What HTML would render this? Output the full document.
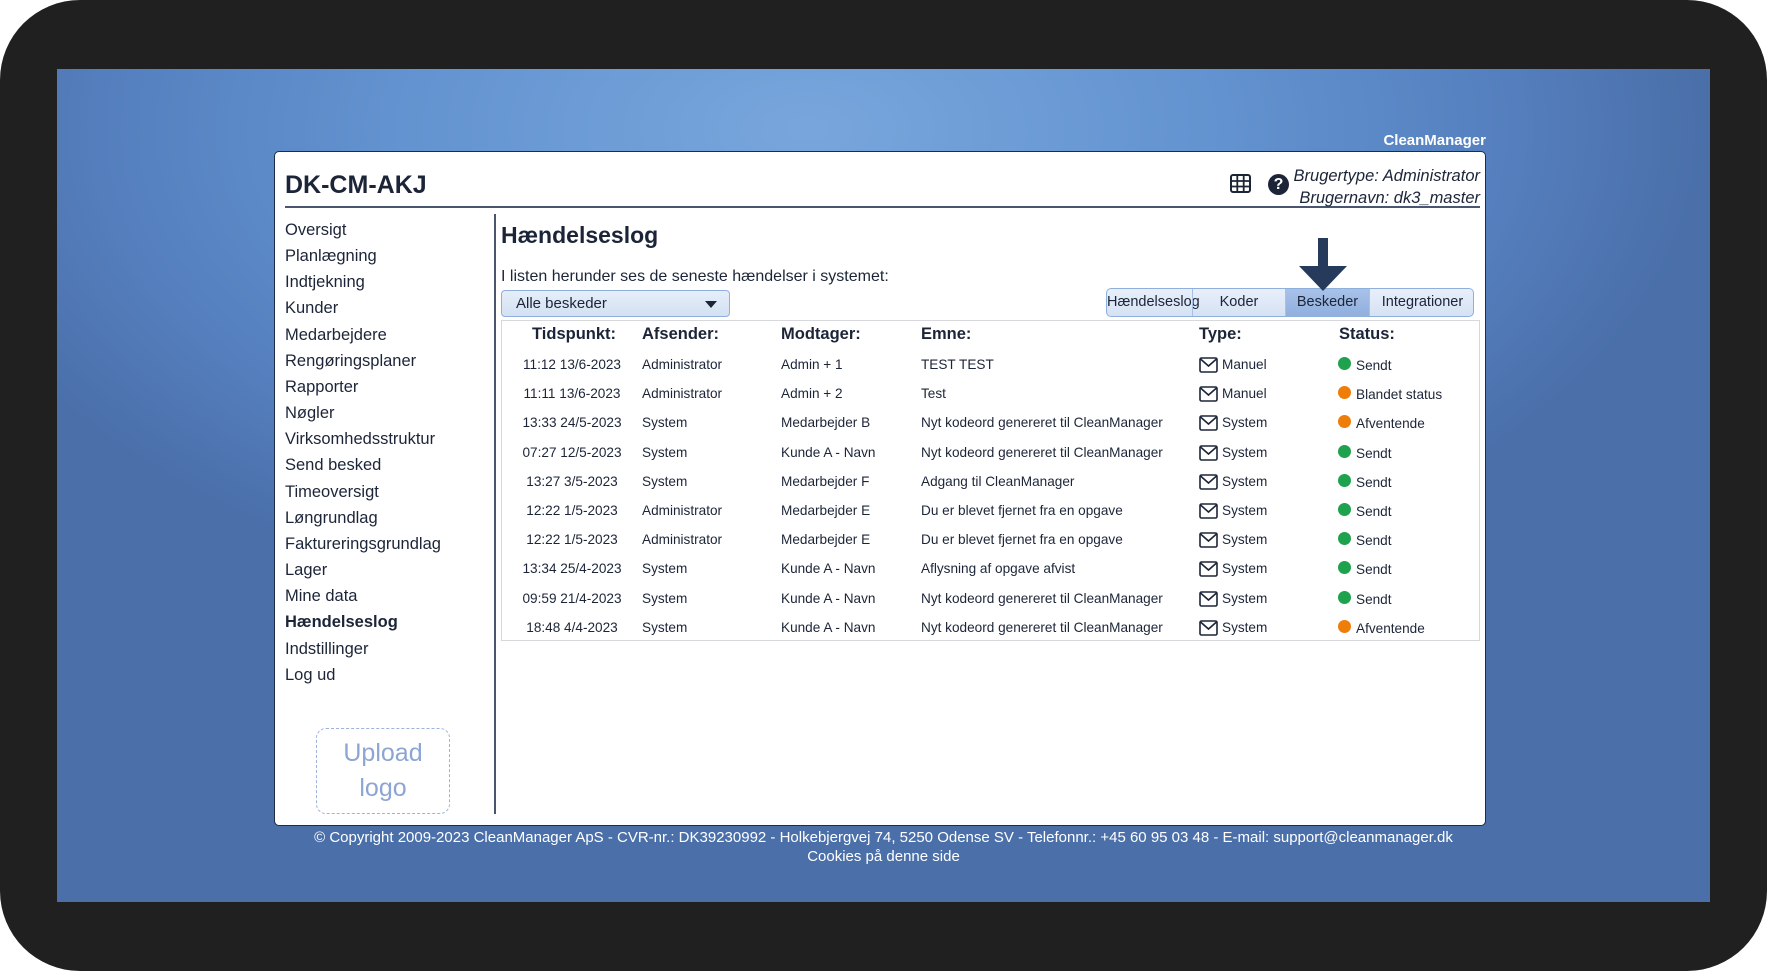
<!DOCTYPE html>
<html><head><meta charset="utf-8"><style>
*{margin:0;padding:0;box-sizing:border-box}
body{width:1767px;height:971px;background:#fff;position:relative;overflow:hidden;font-family:"Liberation Sans",sans-serif;color:#1c2538}
.frame{position:absolute;left:0;top:0;width:1767px;height:971px;background:#212021;border-radius:80px}
.blue{position:absolute;left:57px;top:69px;width:1653px;height:833px;background:radial-gradient(ellipse 900px 500px at 750px 60px,#78a6dc 0%,#6393d0 45%,#5681c0 75%,#4a6fa9 100%)}
.a{position:absolute;white-space:nowrap}
.panel{position:absolute;left:274px;top:151px;width:1212px;height:675px;background:#fff;border-radius:5px;border:1.5px solid #1f2c48}
.menu{font-size:16.5px;color:#1c2538}
.row{font-size:13.6px;color:#1c2538}
.hd{font-size:16.5px;font-weight:bold;color:#1c2538}
.dot{position:absolute;width:13px;height:13px;border-radius:50%}
.g{background:#1fa24e}.o{background:#ee7d0a}
</style></head><body>
<div class="frame"></div>
<div class="blue"></div>
<div class="a" style="right:281px;top:132px;font-size:15px;font-weight:bold;color:#fff">CleanManager</div>
<div class="panel"></div>
<div class="a" style="left:285px;top:171px;font-size:25px;font-weight:bold;color:#1c2538">DK-CM-AKJ</div>
<div class="a" style="left:285px;top:206px;width:1195px;height:2px;background:#4a5670"></div>
<svg class="a" style="left:1230px;top:174px" width="21" height="19" viewBox="0 0 21 19"><rect x="1" y="1" width="19" height="17" rx="2" fill="none" stroke="#1c2538" stroke-width="2"/><path d="M1 7h19M1 12.5h19M7.3 1v17M13.7 1v17" stroke="#1c2538" stroke-width="1.8"/></svg>
<div class="a" style="left:1268px;top:174px;width:21px;height:21px;border-radius:50%;background:#1c2538;color:#fff;font-weight:bold;font-size:16px;text-align:center;line-height:21px">?</div>
<div class="a" style="right:287px;top:165px;font-size:16.5px;font-style:italic;text-align:right;line-height:22px">Brugertype: Administrator<br>Brugernavn: dk3_master</div>
<div class="a" style="left:494px;top:214px;width:2px;height:600px;background:#4a5670"></div>
<div class="a menu" style="left:285px;top:217px;line-height:26.15px">Oversigt<br>Planlægning<br>Indtjekning<br>Kunder<br>Medarbejdere<br>Rengøringsplaner<br>Rapporter<br>Nøgler<br>Virksomhedsstruktur<br>Send besked<br>Timeoversigt<br>Løngrundlag<br>Faktureringsgrundlag<br>Lager<br>Mine data<br><b>Hændelseslog</b><br>Indstillinger<br>Log ud</div>
<div class="a" style="left:316px;top:728px;width:134px;height:86px;border:1.5px dashed #9db3dc;border-radius:10px;color:#8ca5d3;font-size:25px;text-align:center;line-height:35px;padding-top:7px">Upload<br>logo</div>
<div class="a" style="left:501px;top:222px;font-size:23px;font-weight:bold">Hændelseslog</div>
<div class="a" style="left:501px;top:268px;font-size:16px">I listen herunder ses de seneste hændelser i systemet:</div>
<div class="a" style="left:501px;top:290px;width:229px;height:27px;border:1px solid #8fb0dd;border-radius:4px;background:linear-gradient(#e6eef9,#d3e1f3);font-size:15px;line-height:25px;padding-left:14px">Alle beskeder<span style="position:absolute;right:12px;top:10px;border-left:6px solid transparent;border-right:6px solid transparent;border-top:7px solid #1c2538"></span></div>
<div class="a" style="left:1106px;top:288px;width:368px;height:29px;border:1px solid #8fb0dd;border-radius:5px;background:linear-gradient(#e8effa,#d5e2f4);overflow:hidden;font-size:14.5px;line-height:27px">
<span class="a" style="left:0;width:85px;text-align:center">Hændelseslog</span>
<span class="a" style="left:85px;width:93px;text-align:center;border-left:1px solid #a9c0e2">Koder</span>
<span class="a" style="left:178px;width:84px;text-align:center;border-left:1px solid #a9c0e2;background:linear-gradient(#a8c2e8,#8eaedd);height:29px">Beskeder</span>
<span class="a" style="left:262px;width:106px;text-align:center;border-left:1px solid #a9c0e2">Integrationer</span></div>
<svg class="a" style="left:1298px;top:238px" width="50" height="54" viewBox="0 0 50 54"><rect x="20" y="0" width="10" height="30" fill="#263b5c"/><path d="M1 28h48L25 53z" fill="#263b5c"/></svg>
<div class="a" style="left:501px;top:320px;width:979px;height:321px;border:1.5px solid #d6d8dc"></div>
<div class="a hd" style="left:532px;top:325px">Tidspunkt:</div>
<div class="a hd" style="left:642px;top:325px">Afsender:</div>
<div class="a hd" style="left:781px;top:325px">Modtager:</div>
<div class="a hd" style="left:921px;top:325px">Emne:</div>
<div class="a hd" style="left:1199px;top:325px">Type:</div>
<div class="a hd" style="left:1339px;top:325px">Status:</div>
<div id="rows"></div>
<div class="a" style="left:57px;width:1653px;top:828px;text-align:center;color:#fff;font-size:15px;line-height:19px">© Copyright 2009-2023 CleanManager ApS - CVR-nr.: DK39230992 - Holkebjergvej 74, 5250 Odense SV - Telefonnr.: +45 60 95 03 48 - E-mail: support@cleanmanager.dk<br>Cookies på denne side</div>
<script>
var d=[["11:12 13/6-2023","Administrator","Admin + 1","TEST TEST","Manuel","g","Sendt"],
["11:11 13/6-2023","Administrator","Admin + 2","Test","Manuel","o","Blandet status"],
["13:33 24/5-2023","System","Medarbejder B","Nyt kodeord genereret til CleanManager","System","o","Afventende"],
["07:27 12/5-2023","System","Kunde A - Navn","Nyt kodeord genereret til CleanManager","System","g","Sendt"],
["13:27 3/5-2023","System","Medarbejder F","Adgang til CleanManager","System","g","Sendt"],
["12:22 1/5-2023","Administrator","Medarbejder E","Du er blevet fjernet fra en opgave","System","g","Sendt"],
["12:22 1/5-2023","Administrator","Medarbejder E","Du er blevet fjernet fra en opgave","System","g","Sendt"],
["13:34 25/4-2023","System","Kunde A - Navn","Aflysning af opgave afvist","System","g","Sendt"],
["09:59 21/4-2023","System","Kunde A - Navn","Nyt kodeord genereret til CleanManager","System","g","Sendt"],
["18:48 4/4-2023","System","Kunde A - Navn","Nyt kodeord genereret til CleanManager","System","o","Afventende"]];
var h="";
d.forEach(function(r,i){var y=365+29.2*i,t=y-8;
h+='<div class="a row" style="left:512px;width:120px;text-align:center;top:'+t+'px">'+r[0]+'</div>';
h+='<div class="a row" style="left:642px;top:'+t+'px">'+r[1]+'</div>';
h+='<div class="a row" style="left:781px;top:'+t+'px">'+r[2]+'</div>';
h+='<div class="a row" style="left:921px;top:'+t+'px">'+r[3]+'</div>';
h+='<svg class="a" style="left:1199px;top:'+(y-8)+'px" width="19" height="16" viewBox="0 0 19 16"><rect x="1" y="1" width="17" height="14" rx="1.5" fill="none" stroke="#1c2538" stroke-width="1.6"/><path d="M1.5 2l8 7 8-7" fill="none" stroke="#1c2538" stroke-width="1.6"/></svg>';
h+='<div class="a row" style="left:1222px;top:'+t+'px">'+r[4]+'</div>';
h+='<div class="dot '+r[5]+'" style="left:1338px;top:'+(y-8)+'px"></div>';
h+='<div class="a row" style="left:1356px;top:'+(t+1)+'px">'+r[6]+'</div>';});
document.getElementById("rows").innerHTML=h;
</script>
</body></html>
